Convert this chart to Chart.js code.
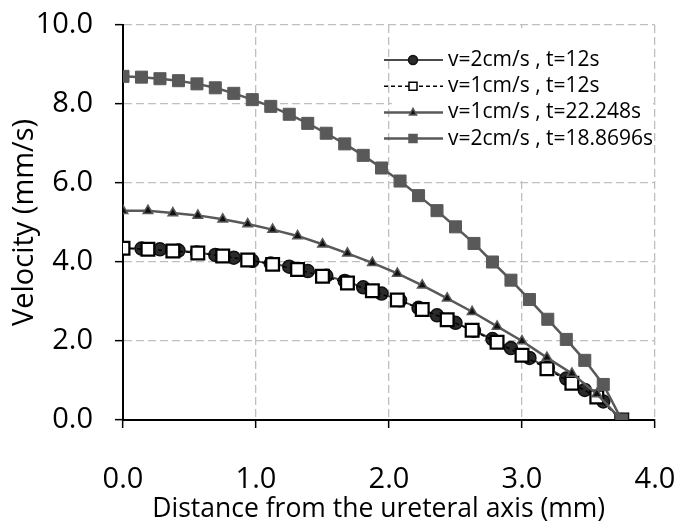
<!DOCTYPE html>
<html>
<head>
<meta charset="utf-8">
<script src="https://cdn.jsdelivr.net/npm/chart.js@4.4.0/dist/chart.umd.min.js"></script>
<style>
  body { margin: 0; background: #fff; }
</style>
</head>
<body>
<canvas id="velocity-chart" width="677" height="525"></canvas>
<script>
// radial positions (mm), two sampling grids
const xFine = [0, 0.139, 0.278, 0.417, 0.556, 0.694, 0.833, 0.972, 1.111, 1.25, 1.389, 1.528, 1.667, 1.806,
               1.944, 2.083, 2.222, 2.361, 2.5, 2.639, 2.778, 2.917, 3.056, 3.194, 3.333, 3.472, 3.611, 3.75];
const xCoarse = [0, 0.1875, 0.375, 0.5625, 0.75, 0.9375, 1.125, 1.3125, 1.5, 1.6875, 1.875,
                 2.0625, 2.25, 2.4375, 2.625, 2.8125, 3.0, 3.1875, 3.375, 3.5625, 3.75];

// velocities (mm/s)
const v2t12 = [4.35, 4.34, 4.32, 4.29, 4.24, 4.18, 4.11, 4.03, 3.96, 3.88, 3.77, 3.65, 3.52, 3.36,
               3.20, 3.03, 2.84, 2.65, 2.46, 2.26, 2.05, 1.82, 1.57, 1.32, 1.05, 0.76, 0.47, 0];
const v1t12 = [4.35, 4.32, 4.28, 4.23, 4.15, 4.05, 3.94, 3.81, 3.64, 3.47, 3.27,
               3.04, 2.80, 2.54, 2.27, 1.97, 1.64, 1.30, 0.93, 0.58, 0];
const v1t22 = [5.30, 5.30, 5.24, 5.18, 5.08, 4.96, 4.82, 4.66, 4.45, 4.22, 3.98,
               3.71, 3.41, 3.08, 2.74, 2.37, 2.00, 1.58, 1.18, 0.66, 0];
const v2t18 = [8.70, 8.68, 8.64, 8.59, 8.51, 8.41, 8.27, 8.11, 7.94, 7.74, 7.51, 7.26, 6.99, 6.70,
               6.38, 6.05, 5.68, 5.30, 4.89, 4.47, 4.00, 3.54, 3.05, 2.55, 2.04, 1.51, 0.90, 0];

const seriesLabels = ['v=2cm/s , t=12s', 'v=1cm/s , t=12s', 'v=1cm/s , t=22.248s', 'v=2cm/s , t=18.8696s'];

const xMin = 0, xMax = 4, xStep = 1;
const yMin = 0, yMax = 10, yStep = 2;

const pairs = (xs, ys) => xs.map((x, i) => ({ x: x, y: ys[i] }));

const tickFont = { family: 'Open Sans', size: 29 };
const legendFont = '21px "Open Sans"';

// legend sits inside the plot, top right, behind the data
const legendBox = {
  id: 'legendBox',
  beforeDatasetsDraw(chart) {
    const ctx = chart.ctx;
    const ds = chart.data.datasets;
    ctx.save();
    ctx.fillStyle = '#fff';
    ctx.fillRect(392, 28, 261, 151);
    ctx.font = legendFont;
    ctx.textBaseline = 'middle';
    ctx.textAlign = 'left';
    ds.forEach((d, i) => {
      const y = 60 + i * 26.2;
      ctx.save();
      ctx.strokeStyle = d.borderColor;
      ctx.lineWidth = d.borderWidth;
      ctx.setLineDash(d.borderDash || []);
      ctx.beginPath();
      ctx.moveTo(384, y);
      ctx.lineTo(443, y);
      ctx.stroke();
      ctx.restore();

      ctx.save();
      ctx.fillStyle = d.pointBackgroundColor;
      ctx.strokeStyle = d.pointBorderColor;
      ctx.lineWidth = 1.5;
      const mx = 413;
      ctx.beginPath();
      if (d.pointStyle === 'circle') {
        ctx.arc(mx, y, 4.5, 0, Math.PI * 2);
      } else if (d.pointStyle === 'triangle') {
        ctx.moveTo(mx, y - 4);
        ctx.lineTo(mx + 3.6, y + 2.5);
        ctx.lineTo(mx - 3.6, y + 2.5);
        ctx.closePath();
      } else {
        ctx.rect(mx - 4, y - 4, 8, 8);
      }
      ctx.fill();
      ctx.stroke();
      ctx.restore();

      ctx.fillStyle = '#000';
      ctx.fillText(d.label, 448, y);
    });
    ctx.restore();
  }
};

new Chart(document.getElementById('velocity-chart'), {
  type: 'scatter',
  data: {
    datasets: [
      {
        label: seriesLabels[0],
        data: pairs(xFine, v2t12),
        showLine: true,
        borderColor: '#4a4a4a',
        borderWidth: 2,
        pointStyle: 'circle',
        pointRadius: 6.5,
        pointBackgroundColor: '#2b2b2b',
        pointBorderColor: '#111',
        pointBorderWidth: 1.5,
        order: 4
      },
      {
        label: seriesLabels[1],
        data: pairs(xCoarse, v1t12),
        showLine: true,
        borderColor: '#000',
        borderWidth: 1.5,
        borderDash: [4, 3],
        pointStyle: 'rect',
        pointRadius: 9,
        pointBackgroundColor: '#fff',
        pointBorderColor: '#000',
        pointBorderWidth: 2.25,
        order: 3
      },
      {
        label: seriesLabels[2],
        data: pairs(xCoarse, v1t22),
        showLine: true,
        borderColor: '#595959',
        borderWidth: 2.5,
        pointStyle: 'triangle',
        pointRadius: 5.5,
        pointBackgroundColor: '#111',
        pointBorderColor: '#595959',
        pointBorderWidth: 1.5,
        order: 2
      },
      {
        label: seriesLabels[3],
        data: pairs(xFine, v2t18),
        showLine: true,
        borderColor: '#595959',
        borderWidth: 2.5,
        pointStyle: 'rect',
        pointRadius: 8.5,
        pointBackgroundColor: '#595959',
        pointBorderColor: '#595959',
        pointBorderWidth: 1,
        order: 1
      }
    ]
  },
  options: {
    responsive: false,
    animation: false,
    devicePixelRatio: 1,
    layout: { padding: { left: 0, right: 22, top: 25, bottom: 0 } },
    plugins: {
      legend: { display: false },
      tooltip: { enabled: false }
    },
    scales: {
      x: {
        type: 'linear',
        min: xMin,
        max: xMax,
        ticks: { stepSize: xStep, callback: v => v.toFixed(1), font: tickFont, color: '#000', padding: 34 },
        grid: { color: '#bfbfbf', lineWidth: 1.3, tickColor: '#000', tickLength: 8, tickWidth: 1.5 },
        border: { color: '#000', width: 2, dash: [8, 4] },
        // trailing spaces nudge the centred title a little to the left, as in the original
        title: { display: true, text: 'Distance from the ureteral axis (mm)   ', font: { family: 'Open Sans', size: 26.5 },
                 color: '#000', padding: { top: 0, bottom: 0 } },
        afterFit: s => { s.height = 105; s.paddingLeft = 0; s.paddingRight = 0; }
      },
      y: {
        type: 'linear',
        min: yMin,
        max: yMax,
        ticks: { stepSize: yStep, callback: v => v.toFixed(1), font: tickFont, color: '#000', padding: 22 },
        grid: { color: '#bfbfbf', lineWidth: 1.3, tickColor: '#000', tickLength: 8, tickWidth: 1.5 },
        border: { color: '#000', width: 2, dash: [8, 4] },
        title: { display: true, text: 'Velocity (mm/s)', font: { family: 'Open Sans', size: 29 },
                 color: '#000', padding: { top: 7, bottom: 0 } },
        afterFit: s => { s.width = 123; s.paddingTop = 0; s.paddingBottom = 0; }
      }
    }
  },
  plugins: [legendBox]
});
</script>
</body>
</html>
